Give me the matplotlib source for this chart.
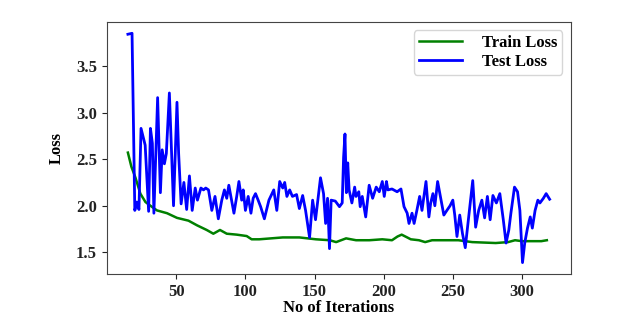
import matplotlib
matplotlib.use("Agg")
import matplotlib.pyplot as plt

# test loss as (iteration, loss) pairs
test_points = [
    (15, 3.84), (18, 3.85), (20, 1.95), (21.5, 2.04), (23, 1.96), (24.5, 2.83),
    (27.5, 2.65), (30, 1.94), (31.3, 2.83), (32.7, 2.67), (33.8, 1.92), (36.5, 3.16),
    (38.5, 2.14), (39.8, 2.6), (41.4, 2.45), (42.8, 2.56), (45, 3.21), (48, 2.0),
    (50.5, 3.11), (51.7, 2.56), (53.5, 2.02), (55.5, 2.25), (57.5, 1.96), (59.5, 2.32),
    (61.5, 1.95), (63.7, 2.19), (65.3, 2.06), (67.8, 2.19), (69.7, 2.17), (71.3, 2.19),
    (73.3, 2.17), (75.7, 1.95), (78, 2.1), (80.4, 1.86), (82.9, 2.06), (84.8, 2.17),
    (86.5, 2.08), (88, 2.22), (90, 2.06), (91.7, 1.92), (93.7, 2.1), (95.3, 2.26),
    (97.3, 2.06), (98.4, 2.17), (100, 1.95), (102, 2.1), (104, 1.92), (105.6, 2.08),
    (107.3, 2.13), (109.2, 2.06), (111, 1.99), (113.7, 1.86), (117, 2.06), (120.5, 2.17),
    (122.7, 1.95), (124.8, 2.26), (127, 2.19), (128.4, 2.25), (130, 2.1), (132, 2.17),
    (134, 2.1), (137, 2.12), (139, 1.97), (141.4, 2.11), (143.5, 1.95), (146.4, 1.66),
    (148.6, 2.06), (150.7, 1.85), (154.3, 2.3), (156.5, 2.13), (158, 1.81), (159.4, 2.08),
    (160.8, 1.54), (162, 2.06), (165, 2.05), (168, 1.99), (170, 2.03), (171, 2.52),
    (172, 2.77), (173, 2.14), (174, 2.46), (175, 2.17), (177, 2.03), (179, 2.2),
    (180, 2.1), (182, 2.15), (183, 1.99), (184.5, 2.1), (187, 1.88), (189.5, 2.22),
    (192, 2.08), (194.6, 2.2), (196.8, 2.15), (199, 2.26), (200.4, 2.1), (202, 2.26),
    (203, 2.17), (206, 2.18), (209.7, 2.15), (212.5, 2.18), (214.7, 1.99), (217, 1.92),
    (218.3, 1.81), (220.5, 1.92), (222, 1.81), (224, 1.95), (226, 2.1), (227.7, 1.95),
    (230.6, 2.26), (232.7, 1.88), (234, 2.03), (235.6, 2.13), (237, 2.0), (239, 2.26),
    (241, 2.1), (243.5, 1.9), (245.7, 1.95), (248, 2.0), (250, 2.06), (251.4, 1.9),
    (253, 1.67), (255, 1.9), (257, 1.7), (259, 1.55), (261.5, 1.88), (264.4, 2.27),
    (266.5, 1.77), (268.7, 1.95), (271, 2.06), (273, 1.87), (275, 2.1), (277, 1.85),
    (279, 2.11), (281.5, 2.03), (284, 2.13), (286.5, 1.85), (288.5, 1.6), (290.5, 1.74),
    (292, 1.92), (294.6, 2.2), (296.8, 2.15), (298.5, 1.95), (300.4, 1.39), (302, 1.6),
    (304, 1.76), (306, 1.88), (307.5, 1.76), (309.5, 1.95), (311.5, 2.06), (313, 2.03),
    (315.5, 2.08), (317.5, 2.13), (320, 2.07),
]

# train loss (iteration, loss)
train_points = [
    (15, 2.57), (17.5, 2.42), (20.5, 2.3), (24, 2.13), (27.7, 2.04), (31.3, 2.0),
    (36, 1.95), (43.3, 1.92), (50.5, 1.87), (58.8, 1.84), (65, 1.79), (72, 1.74),
    (76.8, 1.70), (81.6, 1.74), (86.5, 1.70), (93.7, 1.69), (100.9, 1.675), (104.5, 1.64),
    (110, 1.64), (127, 1.66), (139, 1.66), (151, 1.64), (161, 1.63), (165.6, 1.61),
    (172.8, 1.65), (180, 1.63), (189.6, 1.63), (199, 1.64), (206, 1.63), (210, 1.67),
    (213, 1.69), (217, 1.66), (219.6, 1.64), (225.5, 1.63), (230, 1.61), (235, 1.63),
    (254, 1.63), (264, 1.61), (281, 1.60), (290, 1.61), (295, 1.63), (300, 1.62),
    (314, 1.62), (318, 1.63),
]

test_iter = [p[0] for p in test_points]
test_loss = [p[1] for p in test_points]
train_iter = [p[0] for p in train_points]
train_loss = [p[1] for p in train_points]

plt.rcParams['font.family'] = ['Liberation Serif', 'DejaVu Serif']
plt.rcParams['font.weight'] = 'bold'

fig = plt.figure(figsize=(6.32, 3.31), dpi=100)
ax = fig.add_axes([0.169, 0.172, 0.734, 0.762])

ax.plot(train_iter, train_loss, color='green', linewidth=1.8, label='Train Loss')
ax.plot(test_iter, test_loss, color='blue', linewidth=2.0, label='Test Loss')

ax.set_xticks([50, 100, 150, 200, 250, 300])
ax.set_yticks([1.5, 2.0, 2.5, 3.0, 3.5])
ax.tick_params(labelsize=12, colors='#222222')
for lab in ax.get_xticklabels() + ax.get_yticklabels():
    lab.set_fontweight('bold')
for sp in ax.spines.values():
    sp.set_color('#444444')

ax.set_xlabel('No of Iterations', fontsize=12, fontweight='bold', labelpad=0)
ax.set_ylabel('Loss', fontsize=12, fontweight='bold', labelpad=8)
ax.legend(loc='upper right', prop={'size': 12, 'weight': 'bold'},
          labelspacing=0.15, borderpad=0.3, handlelength=2.6, handletextpad=1.2)

fig.savefig('out.png', dpi=100)
